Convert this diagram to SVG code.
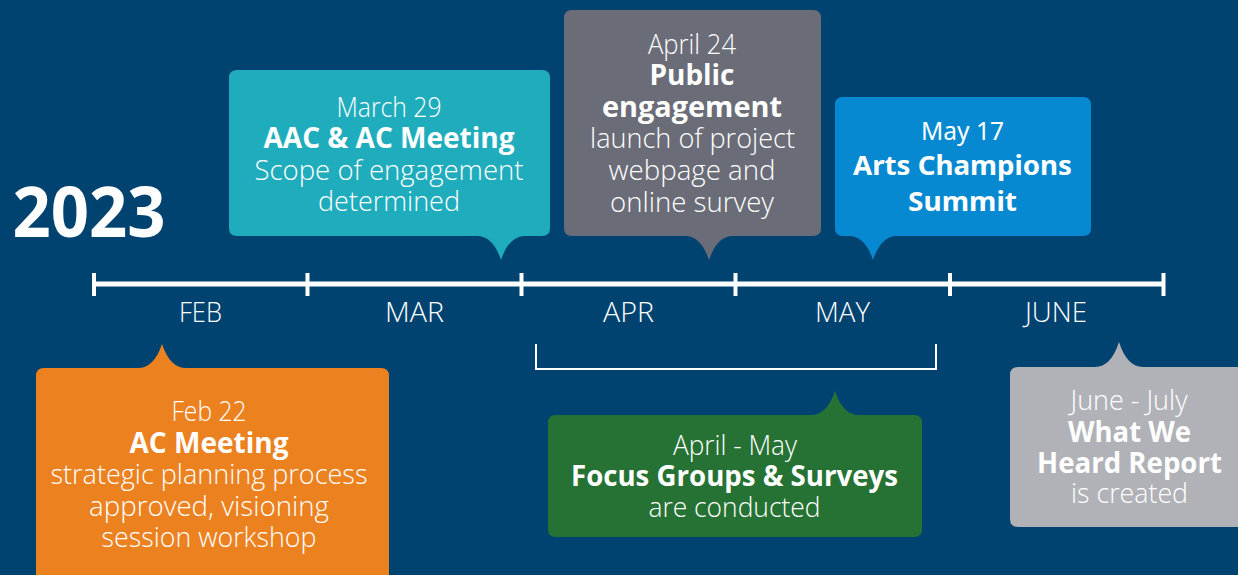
<svg xmlns="http://www.w3.org/2000/svg" width="1238" height="575" viewBox="0 0 1238 575">
<style>
.t{font-family:'Open Sans','Liberation Sans',sans-serif;fill:#fff;text-anchor:middle;font-size:28px;font-weight:300}
.w{font-family:'Noto Sans','Open Sans','Liberation Sans',sans-serif;font-size:26px;font-weight:400}
.b{font-weight:700}
.m{font-size:27px}
</style>
<rect width="1238" height="575" fill="#004370"/>
<g id="year">
<text class="t b" x="89" y="237" style="font-size:70px" textLength="153" lengthAdjust="spacingAndGlyphs">2023</text>
</g>
<g id="timeline" stroke="#fff" fill="none">
<line x1="93" y1="284" x2="1164" y2="284" stroke-width="5"/>
<g stroke-width="4">
<line x1="94" y1="273" x2="94" y2="296"/>
<line x1="307.5" y1="273" x2="307.5" y2="296"/>
<line x1="521.5" y1="273" x2="521.5" y2="296"/>
<line x1="735.5" y1="273" x2="735.5" y2="296"/>
<line x1="950" y1="273" x2="950" y2="296"/>
<line x1="1163.5" y1="273" x2="1163.5" y2="296"/>
</g>
</g>
<g id="months">
<text class="t m" x="200.5" y="322" textLength="43" lengthAdjust="spacingAndGlyphs">FEB</text>
<text class="t m" x="414.5" y="322" textLength="59" lengthAdjust="spacingAndGlyphs">MAR</text>
<text class="t m" x="628.5" y="322" textLength="51" lengthAdjust="spacingAndGlyphs">APR</text>
<text class="t m" x="842.5" y="322" textLength="55" lengthAdjust="spacingAndGlyphs">MAY</text>
<text class="t m" x="1056" y="322" textLength="62" lengthAdjust="spacingAndGlyphs">JUNE</text>
</g>
<g id="connectors">
<path d="M536,344 V369 H936 V344" fill="none" stroke="#fff" stroke-width="2"/>
</g>
<g id="node-mar29">
<path d="M237,70 H542 Q550,70 550,78 V228 Q550,236 542,236 H525 Q509,236 501,260 Q493,236 477,236 H237 Q229,236 229,228 V78 Q229,70 237,70 Z" fill="#1fadbd"/>
<text class="t" x="389" y="117" textLength="105" lengthAdjust="spacingAndGlyphs">March 29</text>
<text class="t b" x="389" y="148" textLength="251" lengthAdjust="spacingAndGlyphs">AAC &amp; AC Meeting</text>
<text class="t" x="389" y="180" textLength="269" lengthAdjust="spacingAndGlyphs">Scope of engagement</text>
<text class="t" x="389" y="211" textLength="142" lengthAdjust="spacingAndGlyphs">determined</text>
</g>
<g id="node-apr24">
<path d="M572,10 H813 Q821,10 821,18 V228 Q821,236 813,236 H733 Q717,236 709,260 Q701,236 685,236 H572 Q564,236 564,228 V18 Q564,10 572,10 Z" fill="#6a6d77"/>
<text class="t" x="692" y="54" textLength="88" lengthAdjust="spacingAndGlyphs">April 24</text>
<text class="t b" x="692" y="85" textLength="85" lengthAdjust="spacingAndGlyphs">Public</text>
<text class="t b" x="692" y="117" textLength="180" lengthAdjust="spacingAndGlyphs">engagement</text>
<text class="t" x="692.5" y="148" textLength="205" lengthAdjust="spacingAndGlyphs">launch of project</text>
<text class="t" x="692" y="180" textLength="167" lengthAdjust="spacingAndGlyphs">webpage and</text>
<text class="t" x="692" y="212" textLength="164" lengthAdjust="spacingAndGlyphs">online survey</text>
</g>
<g id="node-may17">
<path d="M843,97 H1083 Q1091,97 1091,105 V228 Q1091,236 1083,236 H897 Q881,236 873,260 Q865,236 849,236 H843 Q835,236 835,228 V105 Q835,97 843,97 Z" fill="#0789d1"/>
<text class="t w" x="962.5" y="140" textLength="83" lengthAdjust="spacingAndGlyphs">May 17</text>
<text class="t w b" x="962.5" y="175" textLength="219" lengthAdjust="spacingAndGlyphs">Arts Champions</text>
<text class="t w b" x="962.5" y="211" textLength="109" lengthAdjust="spacingAndGlyphs">Summit</text>
</g>
<g id="node-feb22">
<path d="M44,368 H138 Q154,368 162,344 Q170,368 186,368 H381 Q389,368 389,376 V590 H36 V376 Q36,368 44,368 Z" fill="#ec8120"/>
<text class="t" x="209" y="421" textLength="75" lengthAdjust="spacingAndGlyphs">Feb 22</text>
<text class="t b" x="209" y="453" textLength="159" lengthAdjust="spacingAndGlyphs">AC Meeting</text>
<text class="t" x="209" y="484" textLength="317" lengthAdjust="spacingAndGlyphs">strategic planning process</text>
<text class="t" x="209" y="516" textLength="240" lengthAdjust="spacingAndGlyphs">approved, visioning</text>
<text class="t" x="209" y="547" textLength="215" lengthAdjust="spacingAndGlyphs">session workshop</text>
</g>
<g id="node-aprmay">
<path d="M556,415 H811 Q827,415 835,391 Q843,415 859,415 H914 Q922,415 922,423 V529 Q922,537 914,537 H556 Q548,537 548,529 V423 Q548,415 556,415 Z" fill="#267234"/>
<text class="t" x="735" y="455" textLength="124" lengthAdjust="spacingAndGlyphs">April - May</text>
<text class="t b" x="734.5" y="486" textLength="327" lengthAdjust="spacingAndGlyphs">Focus Groups &amp; Surveys</text>
<text class="t" x="734.5" y="517" textLength="172" lengthAdjust="spacingAndGlyphs">are conducted</text>
</g>
<g id="node-junejuly">
<path d="M1018,367 H1095 Q1111,367 1119,342 Q1127,367 1143,367 H1250 V527 H1018 Q1010,527 1010,519 V375 Q1010,367 1018,367 Z" fill="#b1b2b8"/>
<text class="t" x="1129" y="410" textLength="117" lengthAdjust="spacingAndGlyphs">June - July</text>
<text class="t b" x="1129.5" y="442" textLength="123" lengthAdjust="spacingAndGlyphs">What We</text>
<text class="t b" x="1129.5" y="473" textLength="185" lengthAdjust="spacingAndGlyphs">Heard Report</text>
<text class="t" x="1129.5" y="503" textLength="117" lengthAdjust="spacingAndGlyphs">is created</text>
</g>
</svg>
